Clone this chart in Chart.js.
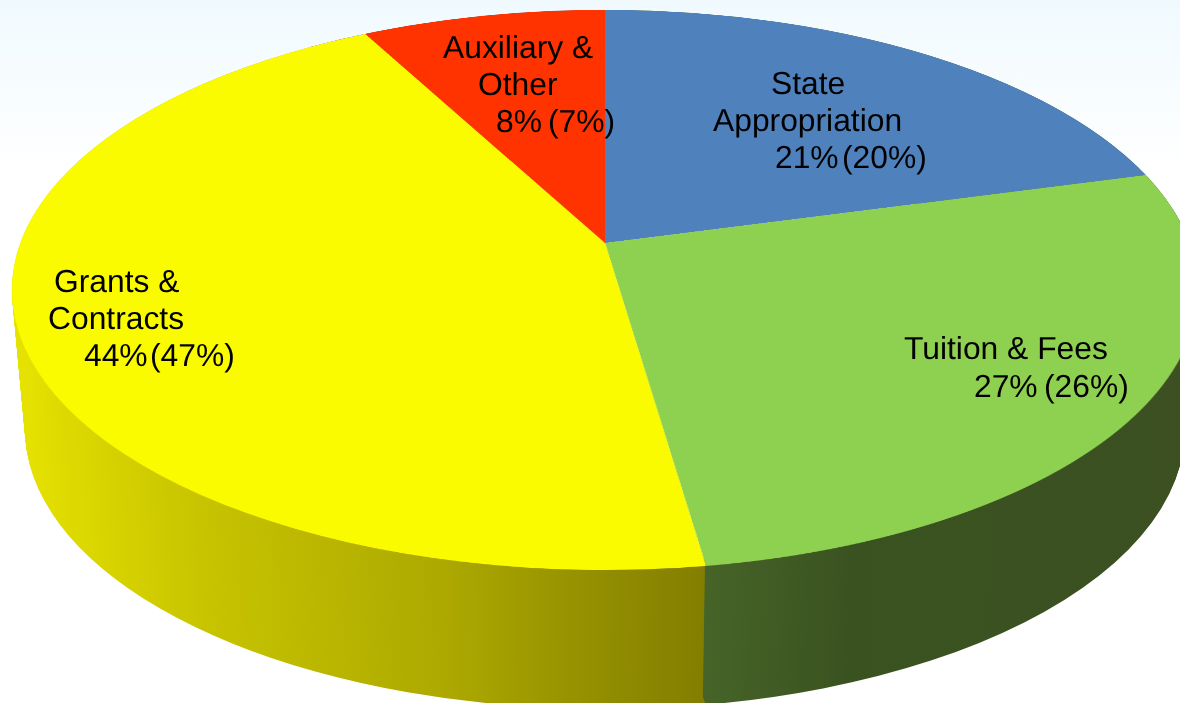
<!DOCTYPE html>
<html>
<head>
<meta charset="utf-8">
<title>Revenue pie</title>
<script src="https://cdn.jsdelivr.net/npm/chart.js@4"></script>
<style>
  html, body { margin: 0; padding: 0; }
  #stage {
    position: relative; width: 1180px; height: 703px; overflow: hidden;
    background: linear-gradient(to bottom, #f0fafe 0, #ffffff 175px);
  }
  #stage canvas { position: absolute; left: 0; top: 0; }
  #top-face { transform-origin: 0 0; }
  .lbl {
    position: absolute; white-space: pre; color: #000;
    font: 31.8px/38px "Liberation Sans", Arial, sans-serif;
    text-rendering: geometricPrecision;
  }
</style>
</head>
<body>
<div id="stage">
  <canvas id="wall" width="1180" height="703"></canvas>
  <canvas id="top-face" width="1400" height="1400"></canvas>
</div>
<script>
const categories = ['State Appropriation', 'Tuition & Fees', 'Grants & Contracts', 'Auxiliary & Other'];
// slice sizes, the printed figures are rounded
const shares = [20.8, 26.9, 44.5, 7.8];
const shownShares = [21, 27, 44, 8];
const priorShares = [20, 26, 47, 7];
const sliceColors = ['#4f81bd', '#8ed04f', '#fbfb00', '#ff3300'];

// where each piece of label text sits: [text, left, middle of line]
const labelSpots = [
  ['State', 771, 83], ['Appropriation', 713, 120],
  [shownShares[0] + '%', 775, 157], ['(' + priorShares[0] + '%)', 842, 157],
  ['Tuition & Fees', 904, 348],
  [shownShares[1] + '%', 974, 386], ['(' + priorShares[1] + '%)', 1044, 386],
  ['Grants &', 54, 281], ['Contracts', 48, 318],
  [shownShares[2] + '%', 84, 355], ['(' + priorShares[2] + '%)', 150, 355],
  ['Auxiliary &', 443, 47], ['Other', 478, 84],
  [shownShares[3] + '%', 496, 121], ['(' + priorShares[3] + '%)', 548, 121]
];

const stage = document.getElementById('stage');
labelSpots.forEach(function(s) {
  const el = document.createElement('div');
  el.className = 'lbl';
  el.textContent = s[0];
  el.style.left = s[1] + 'px';
  el.style.top = (s[2] - 19) + 'px';
  stage.appendChild(el);
});

// top face: the round pie seen in perspective, apex above the middle of the ellipse
const topCanvas = document.getElementById('top-face');
const R = topCanvas.width / 2;
const midX = 605, apexY = 243, halfX = 584.6, halfY = 231.32, persp = -0.16786;
topCanvas.style.transform = 'matrix3d(' + [
  halfX / R, 0, 0, 0,
  midX * persp / R, halfY / R, 0, persp / R,
  0, 0, 1, 0,
  midX * (1 - persp) - halfX, apexY - halfY, 0, 1 - persp
].join(',') + ')';

new Chart(topCanvas.getContext('2d'), {
  type: 'pie',
  data: {
    labels: categories,
    datasets: [{ data: shares, backgroundColor: sliceColors, borderWidth: 0 }]
  },
  options: {
    responsive: false,
    animation: false,
    plugins: { legend: { display: false }, tooltip: { enabled: false } }
  }
});

// side wall: a thin ring of the same slices swept from the top rim down to the bottom rim
const wallCanvas = document.getElementById('wall');
const wallCtx = wallCanvas.getContext('2d');
const wallR = wallCanvas.height / 2, wallCx = wallCanvas.width / 2;

function wallGradient(stops) {
  const scale = wallR / 586;
  const g = wallCtx.createLinearGradient(wallCx + (0 - 605) * scale, 0, wallCx + (1180 - 605) * scale, 0);
  stops.forEach(function(s) { g.addColorStop(s[0] / 1180, s[1]); });
  return g;
}

const wallColors = [
  '#3c5022',
  wallGradient([[705, '#466428'], [850, '#3a5220'], [1180, '#3c5022']]),
  wallGradient([[15, '#e6e200'], [200, '#c8c400'], [450, '#aca800'], [600, '#928e00'], [705, '#847e00']]),
  '#a02000'
];

const sweepWall = {
  id: 'sweepWall',
  beforeDatasetsDraw: function(chart) {
    const ctx = chart.ctx;
    const arcs = chart.getDatasetMeta(0).data;
    const cx = arcs[0].x, cy = arcs[0].y, r = arcs[0].outerRadius;
    ctx.save();
    for (let y = 290; y <= 429; y++) {
      const t = (y - 290) / 139;
      const sx = (593 + (580 - 593) * t) / r, sy = 280 / r;
      ctx.setTransform(sx, 0, 0, sy, 605 - cx * sx, y - cy * sy);
      arcs.forEach(function(arc) { arc.draw(ctx); });
    }
    ctx.restore();
    return false;
  }
};

new Chart(wallCtx, {
  type: 'doughnut',
  data: {
    labels: categories,
    datasets: [{ data: shares, backgroundColor: wallColors, borderWidth: 0 }]
  },
  options: {
    responsive: false,
    animation: false,
    cutout: '97%',
    rotation: -1.7,
    plugins: { legend: { display: false }, tooltip: { enabled: false } }
  },
  plugins: [sweepWall]
});
</script>
</body>
</html>
